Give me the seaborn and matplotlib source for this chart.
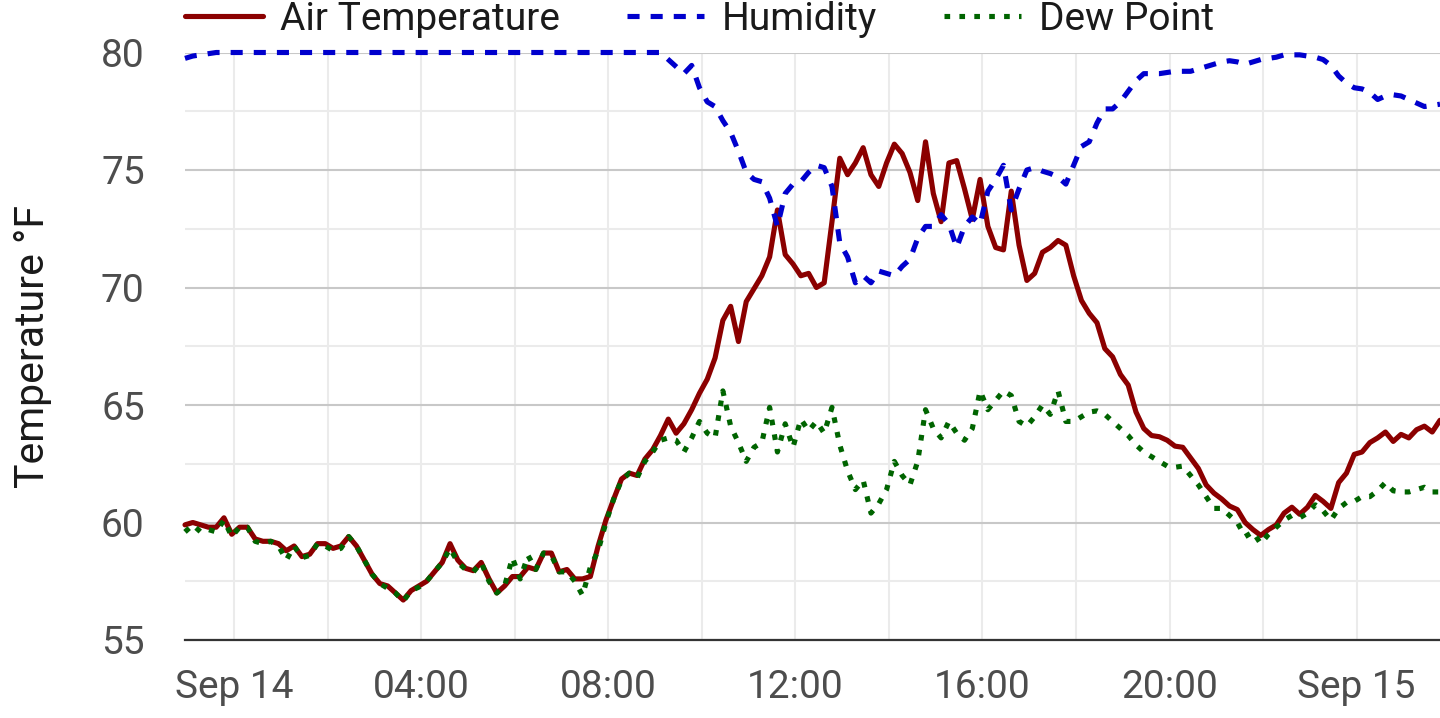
import pandas as pd
import matplotlib.pyplot as plt
import matplotlib.dates as mdates
from matplotlib.ticker import MultipleLocator, FuncFormatter
import seaborn as sns

# === Readings every 10 minutes, Sep 13 22:57 -> Sep 15 01:47 ===
start_time = "2023-09-13 22:57"
step = "10min"

air_temp = [
    59.9, 60.0, 59.9, 59.8, 59.8, 60.2, 59.5, 59.8, 59.8, 59.3,
    59.2, 59.2, 59.1, 58.8, 59.0, 58.55, 58.65, 59.1, 59.1, 58.9,
    59.0, 59.4, 59.0, 58.4, 57.8, 57.4, 57.3, 57.0, 56.7, 57.1,
    57.3, 57.5, 57.9, 58.3, 59.1, 58.4, 58.05, 57.95, 58.3, 57.6,
    57.0, 57.3, 57.7, 57.7, 58.1, 58.0, 58.7, 58.7, 57.9, 58.0,
    57.6, 57.6, 57.7, 59.0, 60.1, 61.0, 61.85, 62.1, 62.0, 62.7,
    63.1, 63.7, 64.4, 63.8, 64.2, 64.8, 65.5, 66.1, 67.0, 68.6,
    69.2, 67.7, 69.4, 69.95, 70.5, 71.3, 73.3, 71.4, 71.0, 70.5,
    70.6, 70.0, 70.2, 72.8, 75.5, 74.8, 75.3, 75.95, 74.8, 74.3,
    75.3, 76.1, 75.7, 74.9, 73.7, 76.2, 74.0, 72.8, 75.3, 75.4,
    74.2, 72.9, 74.6, 72.6, 71.7, 71.6, 74.1, 71.8, 70.3, 70.6,
    71.5, 71.7, 72.0, 71.8, 70.5, 69.45, 68.9, 68.5, 67.4, 67.05,
    66.3, 65.85, 64.7, 64.0, 63.7, 63.65, 63.5, 63.25, 63.2, 62.75,
    62.3, 61.6, 61.25, 61.0, 60.7, 60.55, 60.0, 59.7, 59.45, 59.7,
    59.9, 60.4, 60.65, 60.35, 60.65, 61.15, 60.9, 60.6, 61.7, 62.1,
    62.9, 63.0, 63.4, 63.6, 63.85, 63.45, 63.75, 63.6, 63.95, 64.1,
    63.85, 64.35,
]

humidity = [
    79.75, 79.85, 79.9, 79.95, 80.0, 80.0, 80.0, 80.0, 80.0, 80.0,
    80.0, 80.0, 80.0, 80.0, 80.0, 80.0, 80.0, 80.0, 80.0, 80.0,
    80.0, 80.0, 80.0, 80.0, 80.0, 80.0, 80.0, 80.0, 80.0, 80.0,
    80.0, 80.0, 80.0, 80.0, 80.0, 80.0, 80.0, 80.0, 80.0, 80.0,
    80.0, 80.0, 80.0, 80.0, 80.0, 80.0, 80.0, 80.0, 80.0, 80.0,
    80.0, 80.0, 80.0, 80.0, 80.0, 80.0, 80.0, 80.0, 80.0, 80.0,
    80.0, 80.0, 79.7, 79.4, 79.1, 79.45, 78.5, 77.9, 77.7, 77.1,
    76.6, 75.8, 74.9, 74.6, 74.5, 73.8, 72.6, 74.0, 74.4, 74.5,
    74.9, 75.2, 75.1, 74.3, 71.9, 71.3, 70.2, 70.5, 70.2, 70.7,
    70.6, 70.5, 70.9, 71.2, 72.1, 72.6, 72.6, 73.1, 72.7, 71.7,
    72.6, 73.0, 72.7, 74.1, 74.6, 75.2, 73.3, 74.2, 75.0, 75.1,
    74.95, 74.85, 74.7, 74.4, 75.2, 76.0, 76.2, 77.0, 77.6, 77.6,
    77.9, 78.35, 78.8, 79.1, 79.1, 79.1, 79.15, 79.2, 79.2, 79.2,
    79.3, 79.4, 79.5, 79.6, 79.65, 79.6, 79.5, 79.6, 79.7, 79.75,
    79.8, 79.9, 79.9, 79.9, 79.85, 79.8, 79.7, 79.45, 79.0, 78.7,
    78.5, 78.45, 78.3, 78.0, 78.15, 78.2, 78.15, 78.0, 77.85, 77.7,
    77.75, 77.8,
]

dew_point = [
    59.6, 59.9, 59.6, 59.7, 59.6, 60.1, 59.4, 59.8, 59.8, 59.2,
    59.1, 59.2, 59.0, 58.4, 59.0, 58.5, 58.6, 59.1, 59.0, 58.8,
    58.9, 59.4, 59.0, 58.4, 57.8, 57.4, 57.2, 57.0, 56.65, 57.1,
    57.25, 57.5, 57.9, 58.3, 58.9, 58.3, 58.0, 57.9, 58.3, 57.5,
    57.0, 57.3, 58.5, 57.6, 58.6, 58.0, 58.7, 58.6, 57.9, 57.9,
    57.5, 56.9, 58.1, 58.8, 60.0, 61.0, 61.8, 62.1, 61.9, 62.6,
    63.0, 63.5, 63.6, 63.5, 63.0, 63.6, 64.3, 63.8, 63.6, 65.6,
    64.1, 63.4, 62.6, 63.2, 63.4, 64.9, 63.0, 64.2, 63.2, 64.4,
    63.9, 64.3, 63.8, 64.9, 63.3, 62.2, 61.4, 61.8, 60.4, 60.8,
    61.4, 62.6, 62.0, 61.6, 62.6, 64.8, 64.0, 63.6, 64.3, 63.8,
    63.5, 64.0, 65.6, 64.8, 65.2, 65.6, 65.4, 64.3, 64.1, 64.5,
    65.0, 64.6, 65.6, 64.3, 64.3, 64.5, 64.7, 64.75, 64.6, 64.3,
    64.0, 63.7, 63.3, 63.0, 62.8, 62.6, 62.4, 62.35, 62.4, 62.0,
    61.6, 61.1, 60.6, 60.6, 60.3, 60.0, 59.4, 59.6, 59.1, 59.5,
    59.8, 60.1, 60.3, 60.2, 60.4, 60.75, 60.5, 60.1, 60.6, 60.85,
    60.9, 61.1, 61.1, 61.35, 61.7, 61.35, 61.3, 61.3, 61.4, 61.5,
    61.3, 61.3,
]

times = pd.date_range(start=start_time, periods=len(air_temp), freq=step)
df = pd.DataFrame({
    "time": times,
    "Air Temperature": air_temp,
    "Humidity": humidity,
    "Dew Point": dew_point,
})

# === Style ===
sns.set_style("white")
plt.rcParams["font.family"] = ["Roboto", "DejaVu Sans"]
FS = 28

fig = plt.figure(figsize=(14.4, 7.18), dpi=100)
ax = fig.add_axes([185 / 1440, 1 - 640 / 718, 1255 / 1440, (640 - 52.5) / 718])

series = [
    ("Air Temperature", "#8b0000", "-"),
    ("Humidity", "#0000cd", (0, (2.35, 2.15))),
    ("Dew Point", "#006400", (0, (1.1, 1.8))),
]
for name, color, ls in series:
    sns.lineplot(data=df, x="time", y=name, ax=ax, color=color, linestyle=ls,
                 linewidth=3.7, label=name, errorbar=None, clip_on=False)

# === Axes ===
ax.set_xlim(times[0], times[-1])
ax.set_ylim(55, 80)
ax.yaxis.set_major_locator(MultipleLocator(5))
ax.yaxis.set_minor_locator(MultipleLocator(2.5))
ax.xaxis.set_major_locator(mdates.HourLocator(byhour=[0, 4, 8, 12, 16, 20]))
ax.xaxis.set_minor_locator(mdates.HourLocator(byhour=range(0, 24, 2)))


def fmt_time(v, pos):
    d = mdates.num2date(v)
    if d.hour == 0:
        return d.strftime("%b %d").replace(" 0", " ")
    return d.strftime("%H:%M")


ax.xaxis.set_major_formatter(FuncFormatter(fmt_time))

ax.set_axisbelow(True)
ax.grid(which="major", axis="y", color="#c8c8c8", linewidth=1.5)
ax.grid(which="minor", axis="y", color="#ebebeb", linewidth=1.5)
ax.grid(which="both", axis="x", color="#ebebeb", linewidth=1.5)

for side in ["top", "right", "left"]:
    ax.spines[side].set_visible(False)
ax.spines["bottom"].set_color("#333333")
ax.spines["bottom"].set_linewidth(1.6)

ax.tick_params(axis="both", which="both", length=0, labelsize=FS, labelcolor="#4d4d4d")
ax.tick_params(axis="y", pad=29)
ax.tick_params(axis="x", pad=21)

ax.set_xlabel("")
ax.set_ylabel("Temperature °F", fontsize=29.5, color="#1a1a1a")
ax.yaxis.set_label_coords(-0.106, 0.5)

ax.legend(loc="center left", bbox_to_anchor=(185 / 1440, 1 - 19 / 718),
          bbox_transform=fig.transFigure, ncol=3, frameon=False, fontsize=FS,
          borderpad=0, borderaxespad=0, handlelength=2.0, handletextpad=0.44,
          columnspacing=1.72, labelcolor="#1a1a1a")

fig.savefig("out.png", dpi=100)
